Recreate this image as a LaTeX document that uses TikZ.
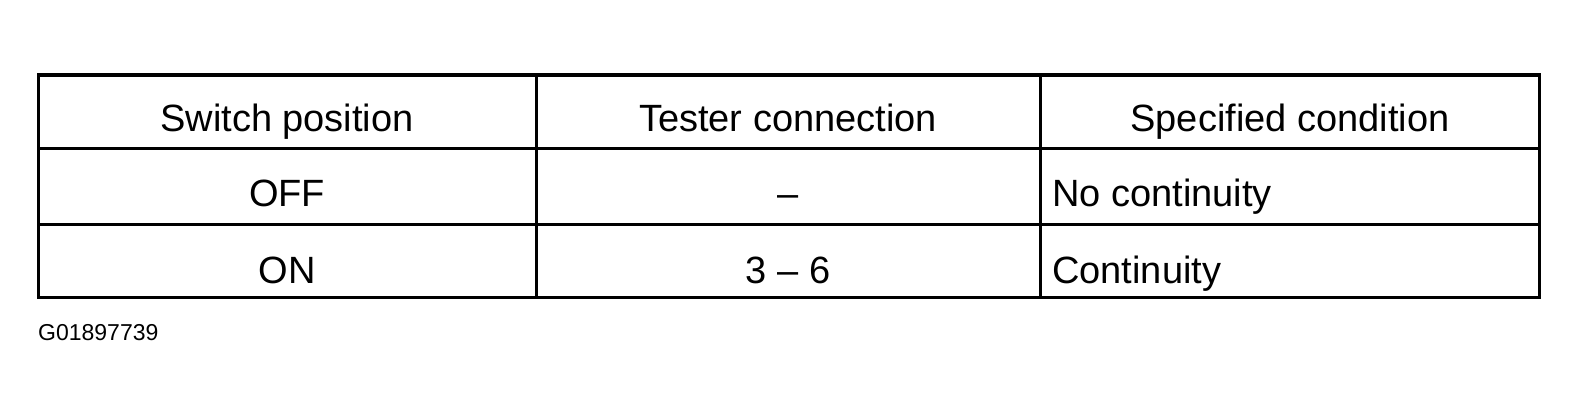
\documentclass[tikz,border=0pt]{standalone}
\usepackage{fontspec}
\setmainfont{Liberation Sans}
\begin{document}
\begin{tikzpicture}[x=1pt,y=-1pt,
  grid/.style={line width=3pt},
  cell/.style={font=\fontsize{38}{42}\selectfont,inner sep=0pt,anchor=base}]
\useasboundingbox (0,0) rectangle (1579,420);
\draw[grid] (38,75) rectangle (1539,297);
\draw[grid] (38,148) -- (1539,148);
\draw[grid] (38,224) -- (1539,224);
\draw[grid] (536,75) -- (536,297);
\draw[grid] (1040,75) -- (1040,297);
\node[cell] (h1) at (287,131) {Switch position};
\node[cell] (h2) at (788,131) {Tester connection};
\node[cell] (h3) at (1290,131) {Specified condition};
\node[cell] (r1a) at (287,206) {OFF};
\node[cell] (r1b) at (788,206) {--};
\node[cell,anchor=base west] (r1c) at (1052,206) {No continuity};
\node[cell] (r2a) at (287,283) {ON};
\node[cell] (r2b) at (788,283) {3 -- 6};
\node[cell,anchor=base west] (r2c) at (1052,283) {Continuity};
\node[font=\fontsize{23}{25}\selectfont,inner sep=0pt,anchor=base west] (id) at (38,340) {G01897739};
\end{tikzpicture}
\end{document}
